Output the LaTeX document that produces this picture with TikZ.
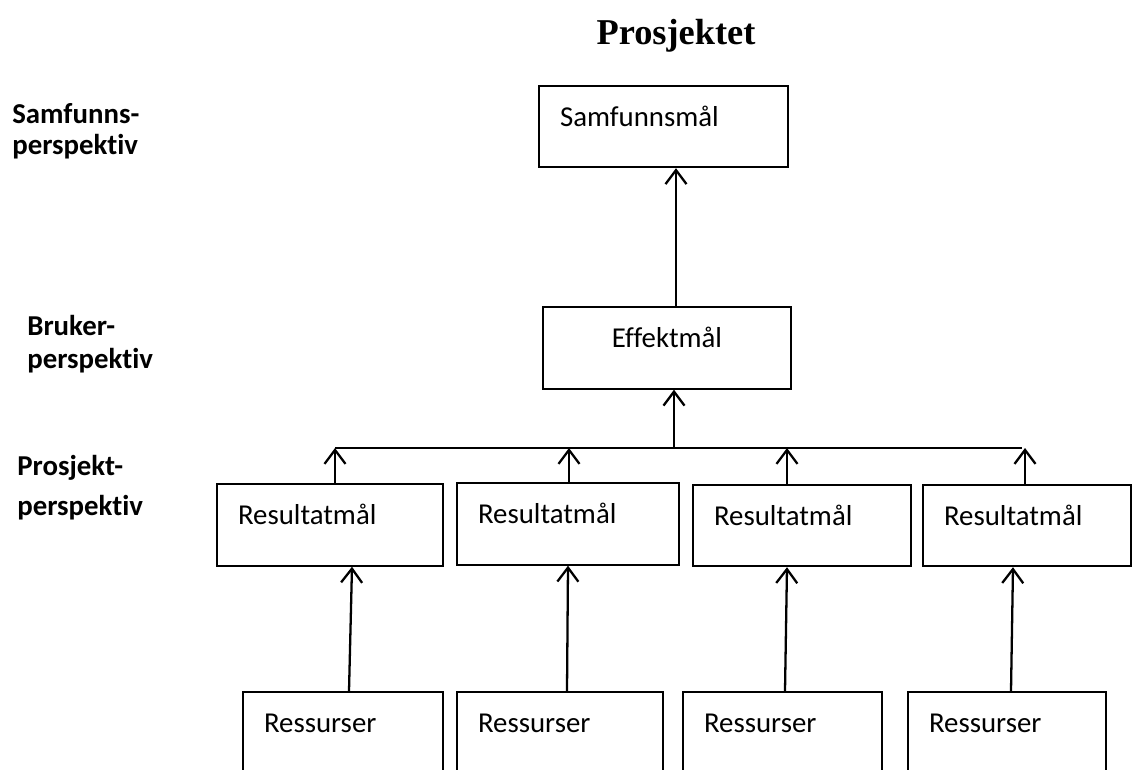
\documentclass[tikz,border=0pt]{standalone}
\usepackage{fontspec}
\setmainfont{Carlito}[Ligatures=NoCommon]
\newfontfamily\titlefont{Liberation Serif}
\usepackage{tikz}
\usetikzlibrary{arrows.meta,positioning,calc}
\tikzstyle{arr}  =[-{Straight Barb[length=0.28cm,width=0.42cm]}, line width=1.3pt]
\tikzstyle{goal} =[draw, line width=1.1pt, minimum height=1.63cm, inner xsep=0.42cm,
                   align=left, text height=0.34cm, text depth=0.36cm]
\tikzstyle{persp}=[anchor=north west, inner sep=0pt, align=left,
                   font=\fontsize{16.4}{16}\selectfont\bfseries]

\begin{document}
\begin{tikzpicture}[x=0.02cm, y=-0.02cm,
    every node/.style={font=\fontsize{16.4}{16}\selectfont}]

  \clip (0,0) rectangle (1133,769);

  % title and perspectives
  \node[anchor=base, font=\titlefont\bfseries\fontsize{20.7}{24}\selectfont] (title) at (676,44) {Prosjektet};
  \node[persp] (samfp) at (12,103) {Samfunns-\\[1.5pt]perspektiv};
  \node[persp] (brukp) at (27,315) {Bruker-\\[2.8pt]perspektiv};
  \node[persp] (prosp) at (17,455) {Prosjekt-\\[6.8pt]perspektiv};

  % goals
  \node[goal, text width=4.14cm] (samf) at (663.5,126.5) {Samfunnsmål};
  \node[goal, text width=4.12cm, align=center] (eff) at (667,348) {Effektmål};

  \node[goal, text width=3.68cm] (res1) at (330,525)   {Resultatmål};
  \node[goal, text width=3.60cm] (res2) at (568,524)   {Resultatmål};
  \node[goal, text width=3.52cm] (res3) at (802,525.5) {Resultatmål};
  \node[goal, text width=3.32cm] (res4) at (1027,525.5) {Resultatmål};

  % resources (cut by the lower edge)
  \node[goal, text width=3.16cm] (rsr1) at (343,733)   {Ressurser};
  \node[goal, text width=3.28cm] (rsr2) at (560,733)   {Ressurser};
  \node[goal, text width=3.14cm] (rsr3) at (782.5,733) {Ressurser};
  \node[goal, text width=3.12cm] (rsr4) at (1007,733)  {Ressurser};

  % bus under Effektmål
  \coordinate (busL) at (335,448);
  \coordinate (busR) at (1022,448);
  \draw[line width=1.1pt] (busL) -- (busR);

  % arrows
  \draw[arr] (eff.north -| 676,0) -- (samf.south -| 676,0);
  \draw[arr] (busL -| 674,0) -- (eff.south -| 674,0);

  \draw[arr] (res1.north -| busL) -- (busL);
  \draw[arr] (res2.north -| 569,0) -- (busL -| 569,0);
  \draw[arr] (res3.north -| 787,0) -- (busL -| 787,0);
  \draw[arr] (res4.north -| 1025,0) -- (busL -| 1025,0);

  \draw[arr] (rsr1.north -| 349,0) -- (res1.south -| 352,0);
  \draw[arr] (rsr2.north -| 567,0) -- (res2.south -| 568,0);
  \draw[arr] (rsr3.north -| 785,0) -- (res3.south -| 787,0);
  \draw[arr] (rsr4.north -| 1011,0) -- (res4.south -| 1013,0);

\end{tikzpicture}
\end{document}
